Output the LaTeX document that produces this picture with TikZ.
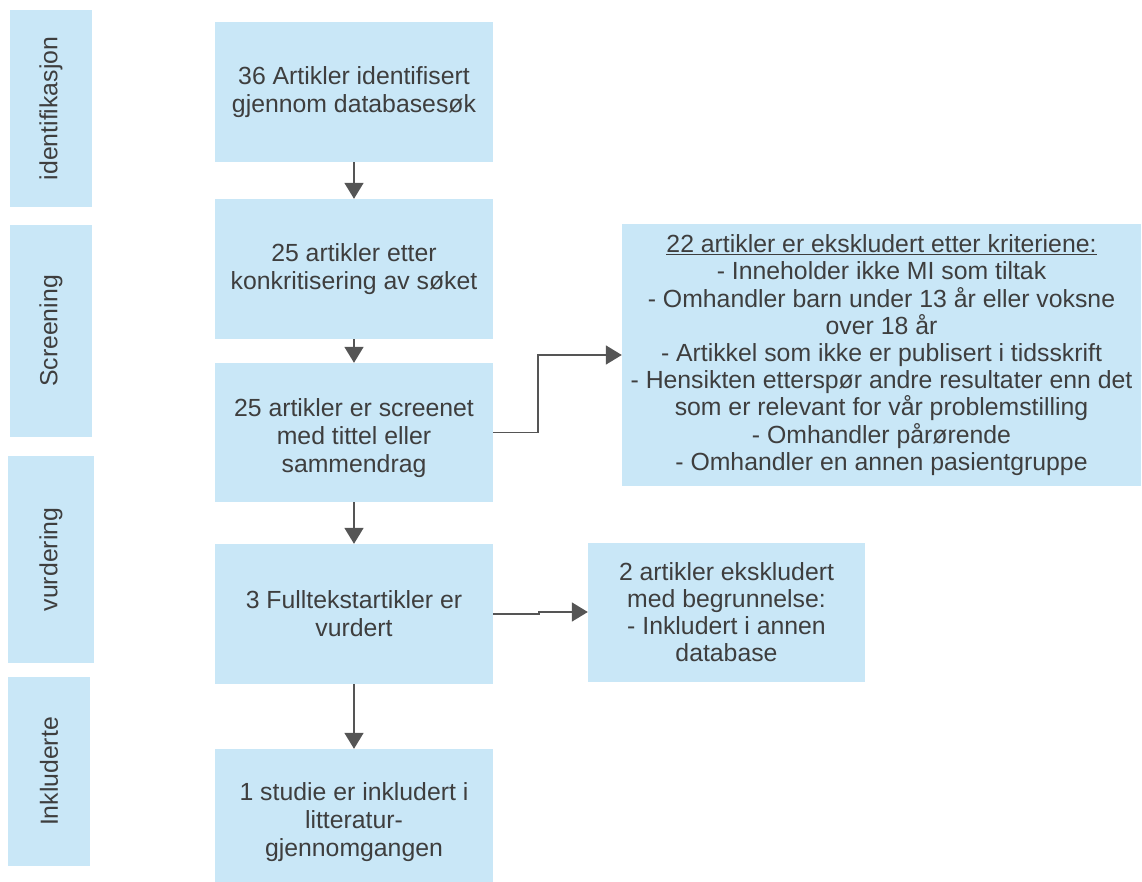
\documentclass[tikz,border=0pt]{standalone}
\usepackage{fontspec}
\setmainfont{Liberation Sans}
\usetikzlibrary{arrows.meta}
\definecolor{boxblue}{HTML}{C9E7F7}
\definecolor{txt}{HTML}{3E3E3E}
\definecolor{arr}{HTML}{555555}
\begin{document}
\begin{tikzpicture}[x=1pt,y=-1pt,
  box/.style={fill=boxblue,draw=none,inner sep=0pt,align=center,text=txt,
    font=\fontsize{24.8}{28}\selectfont},
  label text/.style={inner sep=0pt,align=center,text=txt,
    font=\fontsize{24.8}{28}\selectfont},
  side/.style={box,rotate=90},
  conn/.style={draw=arr,line width=1.8pt,-{Triangle[length=16pt,width=19pt]}}
]
\useasboundingbox (0,0) rectangle (1142,882);
% side labels
\node[side,minimum width=197,minimum height=82] (L1) at (51,108.5) {identifikasjon};
\node[side,minimum width=212,minimum height=82] (L2) at (51,331) {Screening};
\node[side,minimum width=207,minimum height=86] (L3) at (51,559.5) {vurdering};
\node[side,minimum width=189,minimum height=82] (L4) at (49,771.5) {Inkluderte};
% main boxes
\node[box,minimum width=278,minimum height=140] (B1) at (354,92) {36 Artikler identifisert\\gjennom databasesøk};
\node[box,minimum width=278,minimum height=140] (B2) at (354,269) {25 artikler etter\\konkritisering av søket};
\node[box,minimum width=278,minimum height=139] (B3) at (354,432.5) {};
\node[label text] (B3t) at (354,438) {25 artikler er screenet\\med tittel eller\\sammendrag};
\node[box,minimum width=278,minimum height=140] (B4) at (354,614) {3 Fulltekstartikler er\\vurdert};
\node[box,minimum width=278,minimum height=133] (B5) at (354,815.5) {};
\node[label text] (B5t) at (354,822) {1 studie er inkludert i\\litteratur-\\gjennomgangen};
% right boxes
\node[box,minimum width=519,minimum height=262,font=\fontsize{24.8}{27.2}\selectfont] (R1) at (881.5,355) {\underline{22 artikler er ekskludert etter kriteriene:}\\- Inneholder ikke MI som tiltak\\- Omhandler barn under 13 år eller voksne\\over 18 år\\- Artikkel som ikke er publisert i tidsskrift\\- Hensikten etterspør andre resultater enn det\\som er relevant for vår problemstilling\\- Omhandler pårørende\\- Omhandler en annen pasientgruppe};
\node[box,minimum width=277,minimum height=139,font=\fontsize{24.8}{27.2}\selectfont] (R2) at (726.5,612) {2 artikler ekskludert\\med begrunnelse:\\- Inkludert i annen\\database};
% connectors
\draw[conn] (B1.south) -- (B2.north);
\draw[conn] (B2.south) -- (B3.north);
\draw[conn] (B3.south) -- (B4.north);
\draw[conn] (B4.south) -- (B5.north);
\draw[conn] (B3.east) -- ++(45,0) |- (R1.west);
\draw[conn] (B4.east) -- ++(46,0) |- (R2.west);
\end{tikzpicture}
\end{document}
